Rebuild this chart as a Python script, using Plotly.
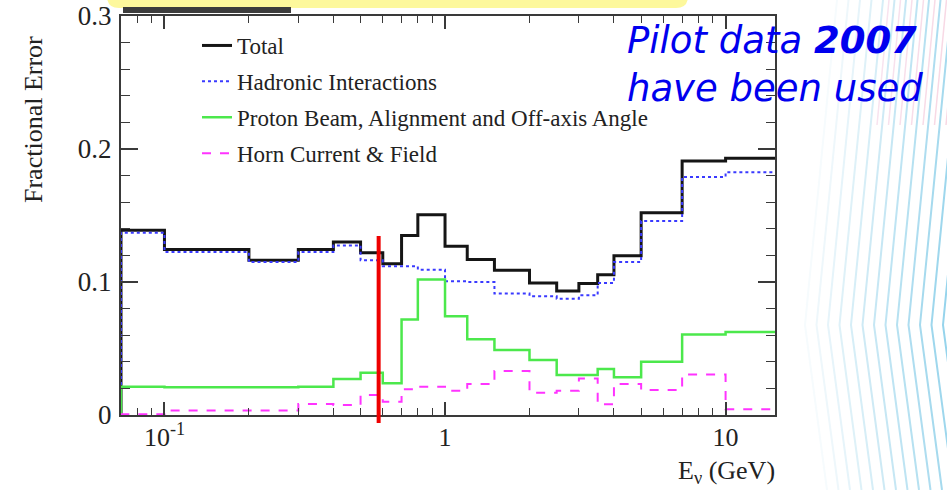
import math
import plotly.graph_objects as go

# ---- data: fractional flux errors per energy bin ----
bin_edges = [0.07, 0.1, 0.2, 0.3, 0.4, 0.5, 0.6, 0.7, 0.8, 1.0, 1.2, 1.5,
             2.0, 2.5, 3.0, 3.5, 4.0, 5.0, 7.0, 10.0, 15.0]

total = [0.139, 0.1245, 0.1163, 0.1245, 0.130, 0.122, 0.1138, 0.135, 0.1505,
         0.1268, 0.117, 0.1088, 0.0993, 0.0933, 0.0988, 0.1055, 0.1198,
         0.152, 0.191, 0.193]
hadronic = [0.137, 0.1225, 0.115, 0.1225, 0.1275, 0.1163, 0.1118, 0.1118,
            0.1093, 0.1005, 0.100, 0.0913, 0.0893, 0.0875, 0.090, 0.0993,
            0.115, 0.1458, 0.179, 0.1825]
proton_beam = [0.0213, 0.0208, 0.0208, 0.0213, 0.027, 0.0318, 0.0238, 0.0718,
               0.1018, 0.0743, 0.057, 0.0488, 0.0413, 0.030, 0.030, 0.0345,
               0.0283, 0.040, 0.0605, 0.0625]
horn = [0.0005, 0.0033, 0.0033, 0.0083, 0.0075, 0.015, 0.010, 0.0193, 0.0213,
        0.0183, 0.0233, 0.033, 0.0168, 0.0183, 0.0275, 0.008, 0.0233, 0.0188,
        0.0305, 0.0043]

series_names = ["Total", "Hadronic Interactions",
                "Proton Beam, Alignment and Off-axis Angle",
                "Horn Current & Field"]
series_values = [total, hadronic, proton_beam, horn]
series_colors = ["#151515", "#3a3aff", "#4ce84c", "#ff33ff"]
series_dash = ["solid", "dot", "solid", "dash"]
series_width = [3, 2, 2.5, 2]

cut_energy = 0.58          # red marker line (GeV)

x_major = [0.1, 1, 10]
x_major_text = ["10<sup>-1</sup>", "1", "10"]
x_minor = [0.08, 0.09, 0.2, 0.3, 0.4, 0.5, 0.6, 0.7, 0.8, 0.9,
           2, 3, 4, 5, 6, 7, 8, 9]
y_major = [0, 0.1, 0.2, 0.3]
y_major_text = ["0", "0.1", "0.2", "0.3"]
y_minor = [0.02, 0.04, 0.06, 0.08, 0.12, 0.14, 0.16, 0.18, 0.22, 0.24,
           0.26, 0.28]

# ---- layout geometry (pixels) ----
W, H = 947, 490
L, R, T, B = 121, 775, 16, 415


def px(x):
    return (x - L) / (R - L)


def py(y):
    return (B - y) / (B - T)


SERIF = "Liberation Serif, Times New Roman, serif"
FRAME = "#3a3a3a"

fig = go.Figure()

for name, vals, col, dash, lw in zip(series_names, series_values,
                                     series_colors, series_dash, series_width):
    xs = [bin_edges[0]] + bin_edges
    ys = [0] + vals + [vals[-1]]
    fig.add_trace(go.Scatter(
        x=xs, y=ys, mode="lines", name=name, legendgroup=name,
        line=dict(color=col, width=lw, dash=dash, shape="hv"),
        hoverinfo="skip"))

shapes = []

# slide background: chevron stripes on the right
n_lines = 13
for i in range(n_lines):
    xa = 805 + i * 11.5
    t = i / (n_lines - 1)
    r = int(246 - t * (246 - 150))
    g = int(251 - t * (251 - 212))
    b = int(253 - t * (253 - 236))
    col = f"rgb({r},{g},{b})"
    path = (f"M {px(xa + 32)},{py(0)} L {px(xa)},{py(325)} "
            f"L {px(xa + 22)},{py(490)}")
    shapes.append(dict(type="path", xref="paper", yref="paper", path=path,
                       line=dict(color=col, width=2), layer="below"))
    if i >= 4:
        pr = int(248 - t * 25)
        pcol = f"rgb(248,{pr - 12},{pr})"
        ppath = (f"M {px(xa + 38)},{py(0)} L {px(xa + 26)},{py(125)}")
        shapes.append(dict(type="path", xref="paper", yref="paper",
                           path=ppath, line=dict(color=pcol, width=1.5),
                           layer="below"))

# pale yellow banner cut by the top edge
bx0, bx1, by0, by1, rad = 107, 688, -20, 8, 12
banner = (f"M {px(bx0)},{py(by0)} L {px(bx0)},{py(by1 - rad)} "
          f"Q {px(bx0)},{py(by1)} {px(bx0 + rad)},{py(by1)} "
          f"L {px(bx1 - rad)},{py(by1)} "
          f"Q {px(bx1)},{py(by1)} {px(bx1)},{py(by1 - rad)} "
          f"L {px(bx1)},{py(by0)} Z")
shapes.append(dict(type="path", xref="paper", yref="paper", path=banner,
                   fillcolor="#fdf89c", line=dict(width=0), layer="below"))
shapes.append(dict(type="rect", xref="paper", yref="paper",
                   x0=px(123), x1=px(291), y0=py(13), y1=py(7),
                   fillcolor="#3c3c3c", line=dict(width=0)))

# red marker line at the cut energy
shapes.append(dict(type="line", xref="x", yref="paper",
                   x0=cut_energy, x1=cut_energy, y0=py(423), y1=py(236),
                   line=dict(color="#ee0000", width=4), layer="above"))

annotations = [
    dict(text="Fractional Error", textangle=-90, xref="paper", yref="paper",
         x=px(33), y=py(120), xanchor="center", yanchor="middle",
         showarrow=False, font=dict(family=SERIF, size=26, color="#222")),
    dict(text="E<sub>\u03bd</sub> (GeV)", xref="paper", yref="paper",
         x=px(777), y=py(472), xanchor="right", yanchor="middle",
         showarrow=False, font=dict(family=SERIF, size=26, color="#222")),
    dict(text="<i>Pilot data <b>2007</b></i><br><i>have been used</i>",
         xref="paper", yref="paper", x=px(625), y=py(17),
         xanchor="left", yanchor="top", align="left", showarrow=False,
         font=dict(family="DejaVu Sans", size=37, color="#0000ee")),
]

axis_common = dict(
    ticks="inside", tickwidth=1.5, tickcolor=FRAME,
    showline=True, linecolor=FRAME, linewidth=2, mirror="ticks",
    showgrid=False, zeroline=False, automargin=False,
)

fig.update_layout(
    template="none",
    width=W, height=H,
    margin=dict(l=L, r=W - R, t=T, b=H - B, autoexpand=False),
    paper_bgcolor="white", plot_bgcolor="white",
    shapes=shapes, annotations=annotations,
    showlegend=True,
    legend=dict(x=px(197), y=py(24), xanchor="left", yanchor="top",
                bgcolor="rgba(0,0,0,0)", borderwidth=0,
                font=dict(family=SERIF, size=23, color="#222"),
                tracegroupgap=3, traceorder="grouped"),
    xaxis=dict(type="log",
               range=[math.log10(bin_edges[0]), math.log10(bin_edges[-1])],
               tickmode="array", tickvals=x_major, ticktext=x_major_text,
               ticklen=13, ticklabelstandoff=-2,
               tickfont=dict(family=SERIF, size=26, color="#222"),
               minor=dict(tickmode="array", tickvals=x_minor, ticks="inside",
                          ticklen=7, tickwidth=1.2, tickcolor=FRAME,
                          showgrid=False),
               **axis_common),
    yaxis=dict(range=[0, 0.3],
               tickmode="array", tickvals=y_major, ticktext=y_major_text,
               ticklen=17, ticklabelstandoff=2,
               tickfont=dict(family=SERIF, size=27, color="#222"),
               minor=dict(tickmode="array", tickvals=y_minor, ticks="inside",
                          ticklen=9, tickwidth=1.2, tickcolor=FRAME,
                          showgrid=False),
               **axis_common),
)

fig.write_html("out.html")
